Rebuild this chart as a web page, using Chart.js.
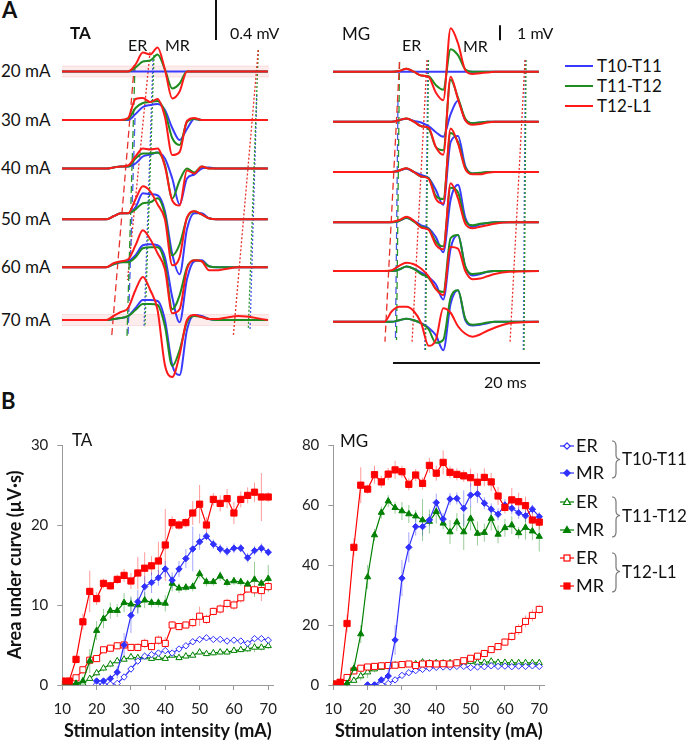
<!DOCTYPE html>
<html>
<head>
<meta charset="utf-8">
<script src="https://cdn.jsdelivr.net/npm/chart.js@4.4.1/dist/chart.umd.min.js"></script>
<style>
body { margin: 0; background: #fff; }
#wrap { position: relative; width: 688px; height: 742px; overflow: hidden; font-family: Lato, "Open Sans", sans-serif; color: #111; }
#wrap canvas { position: absolute; }
.t { position: absolute; white-space: nowrap; line-height: 1; }
</style>
</head>
<body>
<div id="wrap">
  <canvas id="taTrace" width="207" height="400" style="left:62px;top:0"></canvas>
  <canvas id="mgTrace" width="207" height="400" style="left:333px;top:0"></canvas>
  <canvas id="taArea" width="290" height="322" style="left:0;top:420px"></canvas>
  <canvas id="mgArea" width="270" height="322" style="left:290px;top:420px"></canvas>

  <div class="t" style="left:2px;top:-1px;font-size:22px;font-weight:bold">A</div>
  <div class="t" style="left:70px;top:24px;font-size:17px;font-weight:bold">TA</div>
  <div class="t" style="left:128px;top:37px;font-size:16px">ER</div>
  <div class="t" style="left:165px;top:37px;font-size:16px">MR</div>
  <div class="t" style="left:230px;top:25px;font-size:16px">0.4 mV</div>
  <div class="t" style="left:342px;top:25px;font-size:17px">MG</div>
  <div class="t" style="left:402px;top:37px;font-size:16px">ER</div>
  <div class="t" style="left:463px;top:38px;font-size:16px">MR</div>
  <div class="t" style="left:517px;top:25px;font-size:16px">1 mV</div>
  <div class="t" style="left:484px;top:374px;font-size:16px">20 ms</div>
  <div class="t" style="left:1px;top:390px;font-size:22px;font-weight:bold">B</div>
  <div class="t" style="left:72px;top:431px;font-size:17px">TA</div>
  <div class="t" style="left:340px;top:432px;font-size:17px">MG</div>
  <div id="rowLabels"></div>

  <svg style="position:absolute;left:560px;top:55px" width="128" height="64">
    <line x1="5" y1="11" x2="33" y2="11" stroke="#3a3aff" stroke-width="2"/>
    <line x1="5" y1="31" x2="33" y2="31" stroke="#1e8c1e" stroke-width="2"/>
    <line x1="5" y1="51" x2="33" y2="51" stroke="#ff1a1a" stroke-width="2"/>
    <g font-family="Lato, sans-serif" font-size="17" fill="#111">
      <text x="37" y="17">T10-T11</text>
      <text x="37" y="37">T11-T12</text>
      <text x="37" y="57">T12-L1</text>
    </g>
  </svg>

  <svg style="position:absolute;left:555px;top:430px" width="133" height="170">
    <g stroke-width="1.2" fill="none">
      <line x1="5" y1="16" x2="19" y2="16" stroke="#3030ff"/>
      <path d="M12 12.8 L15.2 16 L12 19.2 L8.8 16 Z" stroke="#3030ff" fill="#fff"/>
      <line x1="5" y1="43" x2="19" y2="43" stroke="#3030ff"/>
      <path d="M12 39.8 L15.2 43 L12 46.2 L8.8 43 Z" stroke="#3030ff" fill="#3030ff"/>
      <line x1="5" y1="72" x2="19" y2="72" stroke="#008000"/>
      <path d="M12 68.5 L15.5 74.5 L8.5 74.5 Z" stroke="#008000" fill="#fff"/>
      <line x1="5" y1="100" x2="19" y2="100" stroke="#008000"/>
      <path d="M12 96.5 L15.5 102.5 L8.5 102.5 Z" stroke="#008000" fill="#008000"/>
      <line x1="5" y1="128" x2="19" y2="128" stroke="#ff0000"/>
      <rect x="9" y="125" width="6" height="6" stroke="#ff0000" fill="#fff"/>
      <line x1="5" y1="156" x2="19" y2="156" stroke="#ff0000"/>
      <rect x="9" y="153" width="6" height="6" stroke="#ff0000" fill="#ff0000"/>
      <path d="M57 11 Q61 11 61 16 L61 25 Q61 29 65 29.5 Q61 30 61 34 L61 43 Q61 48 57 48" stroke="#777"/>
      <path d="M57 67 Q61 67 61 72 L61 81 Q61 85 65 85.5 Q61 86 61 90 L61 102 Q61 107 57 107" stroke="#777"/>
      <path d="M57 123 Q61 123 61 128 L61 137 Q61 141 65 141.5 Q61 142 61 146 L61 157 Q61 162 57 162" stroke="#777"/>
    </g>
    <g font-family="Lato, sans-serif" font-size="18" fill="#111">
      <text x="21" y="22">ER</text>
      <text x="21" y="49">MR</text>
      <text x="21" y="78">ER</text>
      <text x="21" y="106">MR</text>
      <text x="21" y="134">ER</text>
      <text x="21" y="162">MR</text>
    </g>
    <g font-family="Lato, sans-serif" font-size="17" fill="#111">
      <text x="67" y="35">T10-T11</text>
      <text x="67" y="92">T11-T12</text>
      <text x="67" y="148">T12-L1</text>
    </g>
  </svg>
</div>

<script>
// ---------- panel A : averaged EMG sweeps ----------
// sample times (ms from sweep start), shared by all traces
var traceTime = [0, 6, 7, 8, 9, 10, 11, 12, 13, 14, 15, 16, 17, 18, 19, 20, 21, 22, 24, 28];
var intensityRows = ['20 mA', '30 mA', '40 mA', '50 mA', '60 mA', '70 mA'];

// TA, mV, one row per intensity
var taBase = [0, -0.485, -0.97, -1.478, -1.958, -2.485];
var taBlue = [
  [0,0,0,0,0,0,0,0,0,0,0,0,0,0,0,0,0,0,0,0],
  [0,0,0,0,0,0.06,0.13,0.15,0.16,0.1,-0.08,-0.2,-0.09,0.01,0,0,0,0,0,0],
  [0,0,0.01,0.02,0.02,0.05,0.12,0.14,0.16,0.1,-0.1,-0.36,-0.1,-0.06,0,0.01,0,0,0,0],
  [0,0,0.03,0.06,0.06,0.12,0.26,0.25,0.24,0.08,-0.35,-0.55,-0.1,0.06,0.06,0.01,0,0,0,0],
  [0,0,0.03,0.05,0.06,0.12,0.22,0.23,0.22,0.1,-0.3,-0.55,-0.12,0.06,0.07,0.01,0,0,0,0],
  [0,0,0.01,0.02,0.04,0.12,0.2,0.2,0.19,0,-0.45,-0.55,-0.1,0.05,0.04,0.01,0,0,0,0]
];
var taGreen = [
  [0,0,0,0,0,0.04,0.1,0.11,0.17,0.02,-0.17,-0.12,0,0,0,0,0,0,0,0],
  [0,0,0,0,0.01,0.12,0.17,0.18,0.19,0.08,-0.18,-0.25,-0.02,0.01,0,0,0,0,0,0],
  [0,0,0.01,0.02,0.02,0.1,0.15,0.15,0.16,0.04,-0.3,-0.12,0,-0.04,0.02,0,0,0,0,0],
  [0,0,0.03,0.06,0.06,0.1,0.16,0.17,0.21,0.05,-0.36,-0.25,0.01,0.08,0.05,0.01,0,0,0,0],
  [0,0,0.03,0.05,0.05,0.1,0.19,0.2,0.2,0.04,-0.42,-0.28,0,0.07,0.06,0.01,0,0,0,0],
  [0,0,0.01,0.02,0.04,0.1,0.16,0.16,0.15,-0.06,-0.46,-0.3,-0.02,0.04,0.03,0.01,0,0,0,0]
];
var taRed = [
  [0,0,0,0,0,0.07,0.19,0.17,0.24,0.02,-0.27,-0.2,0,0,0,0,0,0,0,0],
  [0,0,0,0,0.02,0.21,0.22,0.18,0.21,0.03,-0.35,-0.32,-0.01,0.02,0,0,0,0,0,0],
  [0,0,0.01,0.02,0.03,0.12,0.2,0.19,0.2,0.02,-0.32,-0.37,-0.02,-0.05,0.02,0,0,0,0,0],
  [0,0,0.03,0.06,0.06,0.2,0.33,0.28,0.15,0,-0.46,-0.38,0.02,0.08,0.05,0.01,0,0,0,0],
  [0,0,0.04,0.06,0.08,0.22,0.37,0.28,0.14,-0.02,-0.46,-0.42,-0.02,0.07,0.06,-0.03,-0.03,-0.02,0,0],
  [0,0,0.04,0.08,0.12,0.3,0.43,0.3,0.1,-0.45,-0.57,-0.35,0,0.05,0.03,0.01,0.01,0.02,0.04,0]
];
var taBandRows = [0, 5];

// MG, mV
var mgBase = [0, -3.333, -6.687, -10.04, -13.29, -16.67];
var mgBlue = [
  [0,0,0,0,0,0,0,0,0,0,0,0,0,0,0,0,0,0,0,0],
  [0,0,0,0,0.1,0.2,0.05,-0.05,-0.3,-0.7,-1.0,0.5,1.4,0.1,-0.1,-0.05,0,0,0,0],
  [0,0,0,0,0.1,0.22,0,-0.2,-0.4,-1.2,-2.2,2.0,2.4,0.4,-0.1,-0.1,0,0,0,0],
  [0,0,0,0,0.1,0.28,0.1,-0.2,-0.4,-1.0,-2.0,1.5,2.5,0.3,-0.3,-0.15,-0.05,0,0,0],
  [0,0,0,0,0.1,0.3,0.15,-0.1,-0.4,-0.9,-1.9,1.5,2.4,0.3,-0.3,-0.2,-0.05,0,0,0],
  [0,0,0,0,0.1,0.2,0.1,-0.1,-0.4,-0.9,-1.9,1.2,2.1,0.1,-0.25,-0.2,-0.1,0,0,0]
];
var mgGreen = [
  [0,0,0,0,0.05,0.2,0,-0.25,-0.3,-0.9,-1.2,1.5,1.1,0.15,0,0,0,0,0,0],
  [0,0,0,0,0.1,0.22,0,-0.3,-0.45,-1.7,-1.9,2.8,1.6,0.2,-0.1,-0.05,0,0,0,0],
  [0,0,0,0,0.1,0.25,0,-0.3,-0.4,-1.6,-1.8,2.6,2.0,0.3,-0.1,-0.05,0,0,0,0],
  [0,0,0,0,0.1,0.3,0.05,-0.3,-0.45,-1.3,-1.6,2.3,2.0,0.1,-0.2,-0.1,-0.05,0,0,0],
  [0,0,0,0,0.1,0.3,0.15,-0.2,-0.45,-1.2,-1.4,2.2,2.4,0.3,-0.2,-0.15,-0.05,0,0,0],
  [0,0,0,0,0.1,0.2,0.1,-0.1,-0.5,-1.4,-1.2,1.6,2.1,0.2,-0.2,-0.15,-0.05,0,0,0]
];
var mgRed = [
  [0,0,0,0,0.05,0.2,0,-0.25,-0.35,-1.4,-1.9,2.9,1.9,0.1,-0.15,-0.1,-0.05,0,0,0],
  [0,0,0,0,0.1,0.22,0,-0.3,-0.4,-1.7,-2.2,3.0,1.5,0.1,-0.2,-0.15,-0.05,0,0,0],
  [0,0,0,0,0.1,0.25,0,-0.3,-0.45,-1.8,-2.1,2.9,1.9,0.2,-0.15,-0.15,-0.05,0,0,0],
  [0,0,0,0.02,0.15,0.37,0.1,-0.35,-0.5,-1.5,-1.8,2.6,1.6,-0.1,-0.4,-0.3,-0.2,-0.1,0,0],
  [0,0,0,0.05,0.35,0.55,0.45,0.15,-0.35,-1.2,-1.6,1.6,1.5,0,-0.55,-0.5,-0.35,-0.2,-0.05,0],
  [0,0,0,0.7,1.0,1.0,0.7,-0.1,-1.6,-1.2,0.9,0.6,-0.3,-0.8,-1.0,-0.85,-0.6,-0.4,-0.1,0]
];

// ER / MR window marks: [t top, mV top, t bottom, mV bottom]
var taMarks = [[9.84,0.065,6.76,-2.65],[9.93,0.065,8.84,-2.655],[9.93,-0.465,8.98,-2.645],
  [11.97,0.195,8.91,-2.085],[12.52,0.165,11.29,-2.555],[12.38,0.115,11.16,-2.555],
  [26.7,0.215,23.3,-2.65],[26.7,0.215,25.35,-2.565],[26.5,-0.235,25.58,-2.585]];
var mgMarks = [[9.05,0.65,7.07,-18.0],[9.05,0.65,8.64,-17.89],[8.84,-1.89,8.5,-17.75],
  [12.79,0.78,10.75,-18.09],[12.99,0.78,12.59,-18.6],[12.9,0.78,12.49,-18.6],
  [26.12,0.78,24.08,-18.09],[26.26,0.78,25.99,-18.6],[26.16,0.78,25.89,-18.6]];
var markStyles = [['#e8302a',[7,4]],['#2a962a',[7,4]],['#4a5ae8',[7,4]],
  ['#e8302a',[2,2]],['#2a962a',[2,2]],['#4a5ae8',[2,2]],
  ['#e8302a',[2,2]],['#2a962a',[2,2]],['#4a5ae8',[2,2]]];
var taScaleBar = [[20.95,0.715],[20.95,0.315]];
var mgScaleBar = [[22.72,3.1],[22.72,2.1]];
var mgTimeBar = [[8.16,-19.42],[28.16,-19.42]];

// ---------- panel B : area under curve, µV·s ----------
var stimIntensity = [10,12,14,16,18,20,22,24,26,28,30,32,34,36,38,40,42,44,46,48,50,52,54,56,58,60,62,64,66,68,70];

var taErBlue  = [null,null,null,null,null,0.1,0.1,0.1,0.2,1.0,2.0,3.0,3.6,3.8,4.0,4.3,4.0,4.5,4.9,5.4,5.7,5.9,5.7,5.7,5.5,5.6,5.5,5.2,5.8,5.8,5.6];
var taMrBlue  = [null,null,null,null,null,0.5,0.5,0.8,1.6,5.0,8.7,10.4,12.3,12.8,13.4,14.5,13.1,14.5,15.8,17.0,17.9,18.6,17.6,17.0,16.7,17.1,17.1,15.9,16.8,17.1,16.6];
var taErGreen = [0.1,0.1,0.1,0.2,0.8,1.5,2.1,2.6,3.0,3.2,3.5,3.4,3.5,3.3,3.4,3.3,3.7,3.4,3.6,3.7,4.1,3.9,4.0,4.1,4.1,4.3,4.4,4.5,4.7,4.7,4.9];
var taMrGreen = [0.1,0.1,0.2,0.5,3.0,6.8,8.3,9.3,9.3,10.3,10.1,10.0,10.6,10.3,10.3,10.2,12.7,12.1,12.2,12.3,13.9,12.9,12.9,13.6,12.8,13.0,12.9,12.6,13.2,12.7,13.3];
var taErRed   = [0.3,0.3,0.9,1.9,3.1,3.3,4.4,4.6,4.9,5.0,4.7,4.7,5.2,4.8,5.6,5.2,7.5,7.3,7.5,7.8,8.6,8.2,9.2,9.5,10.2,10.0,10.9,12.0,11.9,11.8,12.3];
var taMrRed   = [0.5,0.5,3.2,7.9,11.7,10.8,12.7,12.4,13.2,13.7,13.0,14.0,14.6,14.9,15.5,17.5,20.3,20.0,20.3,21.5,22.6,20.0,23.2,22.7,23.3,21.5,23.2,23.7,24.1,23.5,23.5];

var taErBlueSem  = [null,null,null,null,null,0.1,0.1,0.1,0.2,0.3,0.4,0.4,0.3,0.3,0.3,0.3,0.3,0.3,0.3,0.4,0.4,0.3,0.3,0.3,0.3,0.3,0.3,0.3,0.3,0.3,0.3];
var taMrBlueSem  = [null,null,null,null,null,0.3,0.3,0.5,0.8,1.5,2.2,1.5,1.3,1.3,1.0,1.0,1.0,1.0,1.2,2.8,1.0,0.5,0.6,0.6,0.6,0.6,0.5,0.6,0.6,0.6,0.5];
var taErGreenSem = [0.1,0.1,0.1,0.1,0.3,0.4,0.4,0.4,0.3,0.3,0.3,0.3,0.3,0.3,0.3,0.3,0.3,0.3,0.3,0.3,0.3,0.3,0.3,0.3,0.3,0.3,0.3,0.4,0.6,0.4,0.4];
var taMrGreenSem = [0.1,0.1,0.2,0.5,1.5,1.2,1.2,1.0,0.8,1.2,1.0,1.0,1.0,0.6,0.6,1.0,1.0,0.6,0.5,0.6,0.6,0.6,0.5,0.6,0.5,0.5,0.5,0.5,2.2,0.5,1.7];
var taErRedSem   = [0.2,0.2,0.3,0.5,0.6,0.4,0.4,0.4,0.4,0.4,0.4,0.5,0.6,0.5,0.6,0.8,0.5,0.4,0.4,0.6,1.2,0.6,0.5,0.6,0.6,0.6,0.6,0.5,0.6,1.3,0.5];
var taMrRedSem   = [0.2,0.2,0.5,1.0,2.6,0.8,0.6,0.5,0.6,0.8,1.0,2.0,2.0,1.2,2.4,4.5,0.8,0.6,0.6,1.5,2.4,1.0,0.8,1.0,1.2,1.4,1.0,1.0,1.2,3.0,0.6];

var mgErBlue  = [null,null,null,null,null,0,0,0.2,0.5,1.7,3.2,4.1,4.8,5.2,5.6,5.9,6.0,6.0,6.2,6.2,5.8,6.0,6.1,6.4,6.2,6.3,6.1,6.3,6.2,6.4,6.2];
var mgMrBlue  = [null,null,null,null,null,0,0,1.7,3,15,35.6,45.9,52.8,52.8,55,60.8,55.3,62,62.2,58.9,63.3,63.7,60.6,58.6,56.9,60,58.9,57.4,56.4,58.6,56.1];
var mgErGreen = [0.2,0.2,0.4,1.5,3.0,4.3,5.3,5.8,6.4,6.6,6.7,6.8,7.0,7.6,7.3,7.4,7.3,7.4,7.4,7.5,7.8,7.5,7.5,7.9,7.5,7.5,7.4,7.4,7.4,7.4,7.4];
var mgMrGreen = [0.3,0.3,0.5,5.5,17,36,50,57.5,61.3,59.1,58,57,56.3,55,54.5,57.8,53.9,51,54.3,51,55.5,50.5,50.8,55.5,50.2,52.4,53.3,50.7,52.5,51.3,49.5];
var mgErRed   = [0.3,0.8,2.5,4.7,5.6,6.0,6.2,6.4,6.5,6.6,6.8,7.0,6.5,7.0,7.1,7.0,7.1,7.0,7.4,8.1,8.9,9.6,10.5,11.8,12.8,14.3,16.2,18.5,21.2,23.2,25.2];
var mgMrRed   = [0.3,0.9,20.5,45.9,66.6,65.3,70.1,67.7,70.3,71.7,71.1,66.9,70.0,67.2,73.2,70.6,74.2,70.9,70.2,69.7,69.1,67.6,69.2,67.7,63.0,59.2,61.7,61.1,59.8,55.0,54.3];

var mgErBlueSem  = [null,null,null,null,null,0.2,0.2,0.3,0.5,0.8,0.8,0.8,0.6,0.6,0.6,0.6,0.6,0.6,0.6,0.6,0.6,0.6,0.6,0.6,0.6,0.6,0.6,0.6,0.6,0.6,0.6];
var mgMrBlueSem  = [null,null,null,null,null,0.5,0.5,1,3,5,6,5,3,3,2,3,2,2,2,6,4,3,2,2,2,2,2,2,2,1.5,1.5];
var mgErGreenSem = [0.2,0.2,0.4,0.8,1.5,2,1,0.8,0.6,0.6,0.6,0.6,0.6,0.8,0.6,0.6,0.6,0.6,0.6,0.6,0.8,0.6,0.6,0.8,0.6,0.6,0.6,0.6,0.6,0.6,0.6];
var mgMrGreenSem = [0.3,0.3,1,2,3,4,2,2,2,2,3,3,2,7,4,4,2,4,3,6,4,4,3,4,3,3,3,2,4,3,5];
var mgErRedSem   = [0.3,0.5,0.8,0.8,0.6,0.5,0.5,0.5,0.5,0.5,0.5,0.5,0.5,0.5,0.5,0.5,0.5,0.5,0.5,0.6,0.8,0.8,1,1,1,1.2,1.5,1.8,2,2,1.5];
var mgMrRedSem   = [0.5,1,3,3,6,1.5,3,2,2,3,2,2,2,2,2.5,2.5,4,2,2,2,3,3,3,3,3,2,4,3,3,3,2.5];

// ---------- drawing ----------
var sweepEnd = 28.16;   // ms spanned by a trace canvas

function line_set (points, colour, width, dash, order) {
  return {
    data: points.map(function (p) { return {x: p[0], y: p[1]}; }),
    borderColor: colour, borderWidth: width, borderDash: dash || [],
    pointRadius: 0, fill: false, order: order
  };
}

function create_trace_chart (canvas_id, blue, green, red, base, y_min, y_max, marks, bars, bands) {
  var sets = [];
  (bands || []).forEach(function (row) {
    sets.push(line_set([[0, base[row] + 0.055], [sweepEnd, base[row] + 0.055]], 'rgba(240,170,170,0.3)', 1, null, 100));
    var low = line_set([[0, base[row] - 0.055], [sweepEnd, base[row] - 0.055]], 'rgba(240,170,170,0.3)', 1, null, 100);
    low.fill = '-1';
    low.backgroundColor = 'rgba(245,185,185,0.28)';
    sets.push(low);
  });
  marks.forEach(function (m, i) {
    sets.push(line_set([[m[0], m[1]], [m[2], m[3]]], markStyles[i][0], 1.3, markStyles[i][1], 50));
  });
  bars.forEach(function (b) { sets.push(line_set(b, '#111', 2, null, 40)); });

  [[blue, '#3a3aff', 3], [green, '#1e8c1e', 2], [red, '#ff1a1a', 1]].forEach(function (s) {
    s[0].forEach(function (row, r) {
      sets.push({
        data: traceTime.map(function (t, k) { return {x: t, y: row[k] + base[r]}; }),
        borderColor: s[1], borderWidth: 2, pointRadius: 0,
        cubicInterpolationMode: 'monotone', fill: false, order: s[2]
      });
    });
  });

  new Chart(document.getElementById(canvas_id).getContext('2d'), {
    type: 'line',
    data: { datasets: sets },
    options: {
      responsive: false, animation: false,
      layout: { padding: 0 },
      plugins: { legend: { display: false }, tooltip: { enabled: false } },
      scales: {
        x: { type: 'linear', display: false, min: 0, max: sweepEnd },
        y: { display: false, min: y_min, max: y_max }
      }
    }
  });
}

create_trace_chart('taTrace', taBlue, taGreen, taRed, taBase, -3.285, 0.715, taMarks, [taScaleBar], taBandRows);
create_trace_chart('mgTrace', mgBlue, mgGreen, mgRed, mgBase, -21.887, 4.78, mgMarks, [mgScaleBar, mgTimeBar], []);

// row labels of panel A
intensityRows.forEach(function (txt, i) {
  var d = document.createElement('div');
  d.className = 't';
  d.style.left = '1px';
  d.style.fontSize = '17px';
  d.style.top = (71.5 - taBase[i] * 100 - 9.5) + 'px';
  d.textContent = txt;
  document.getElementById('rowLabels').appendChild(d);
});

var errorBars = {
  id: 'errorBars',
  beforeDatasetsDraw: function (chart) {
    var ctx = chart.ctx, ys = chart.scales.y;
    chart.data.datasets.forEach(function (ds, i) {
      if (!ds.sem) return;
      var meta = chart.getDatasetMeta(i);
      ctx.save();
      ctx.strokeStyle = ds.semColor;
      ctx.lineWidth = 1;
      meta.data.forEach(function (pt, k) {
        var v = ds.data[k].y, e = ds.sem[k];
        if (v == null || e == null) return;
        ctx.beginPath();
        ctx.moveTo(pt.x, ys.getPixelForValue(v - e));
        ctx.lineTo(pt.x, ys.getPixelForValue(v + e));
        ctx.stroke();
      });
      ctx.restore();
    });
  }
};

function auc_set (values, sem, colour, faded, style, radius, open) {
  return {
    data: stimIntensity.map(function (x, k) { return {x: x, y: values[k]}; }),
    sem: sem, semColor: faded,
    borderColor: colour, borderWidth: 1.2,
    pointStyle: style, pointRadius: radius,
    pointBorderColor: colour, pointBorderWidth: 1,
    pointBackgroundColor: open ? '#fff' : colour,
    fill: false, tension: 0
  };
}

function create_chart_auc (canvas_id, sets, y_max, y_step, y_width, pad_right, y_title) {
  var tickFont = { family: 'Lato', size: 15 };
  new Chart(document.getElementById(canvas_id).getContext('2d'), {
    type: 'line',
    data: { datasets: sets },
    options: {
      responsive: false, animation: false,
      layout: { padding: { top: 25, right: pad_right, left: 0, bottom: 0 } },
      plugins: { legend: { display: false }, tooltip: { enabled: false } },
      scales: {
        x: {
          type: 'linear', min: 10, max: 71.5,
          ticks: { stepSize: 10, includeBounds: false, padding: 10, font: tickFont, color: '#222', maxRotation: 0 },
          grid: { drawOnChartArea: false, tickLength: 5, color: '#999' },
          border: { color: '#999' },
          title: { display: true, text: 'Stimulation intensity (mA)', color: '#111',
                   font: { family: 'Lato', size: 18, weight: 'bold' }, padding: { top: 0, bottom: 0 } },
          afterFit: function (s) { s.height = 57; }
        },
        y: {
          min: 0, max: y_max,
          ticks: { stepSize: y_step, padding: 9, font: tickFont, color: '#222' },
          grid: { drawOnChartArea: false, tickLength: 5, color: '#999' },
          border: { color: '#999' },
          title: { display: !!y_title, text: y_title || '', color: '#111',
                   font: { family: 'Lato', size: 18, weight: 'bold' }, padding: { top: 4, bottom: 0 } },
          afterFit: function (s) { s.width = y_width; }
        }
      }
    },
    plugins: [errorBars]
  });
}

var blue = '#3030ff', green = '#008000', red = '#ff0000';
var blueF = 'rgba(60,60,255,0.45)', greenF = 'rgba(0,128,0,0.4)', redF = 'rgba(255,0,0,0.4)';

create_chart_auc('taArea', [
  auc_set(taMrRed, taMrRedSem, red, redF, 'rect', 4.4, false),
  auc_set(taMrBlue, taMrBlueSem, blue, blueF, 'rectRot', 3.2, false),
  auc_set(taMrGreen, taMrGreenSem, green, greenF, 'triangle', 3.6, false),
  auc_set(taErRed, taErRedSem, red, redF, 'rect', 4.3, true),
  auc_set(taErBlue, taErBlueSem, blue, blueF, 'rectRot', 3.2, true),
  auc_set(taErGreen, taErGreenSem, green, greenF, 'triangle', 3.6, true)
], 30, 10, 62.3, 16.6, 'Area under curve (µV·s)');

create_chart_auc('mgArea', [
  auc_set(mgMrRed, mgMrRedSem, red, redF, 'rect', 4.4, false),
  auc_set(mgMrBlue, mgMrBlueSem, blue, blueF, 'rectRot', 3.2, false),
  auc_set(mgMrGreen, mgMrGreenSem, green, greenF, 'triangle', 3.6, false),
  auc_set(mgErRed, mgErRedSem, red, redF, 'rect', 4.3, true),
  auc_set(mgErBlue, mgErBlueSem, blue, blueF, 'rectRot', 3.2, true),
  auc_set(mgErGreen, mgErGreenSem, green, greenF, 'triangle', 3.6, true)
], 80, 20, 43.3, 15.6, null);
</script>
</body>
</html>
